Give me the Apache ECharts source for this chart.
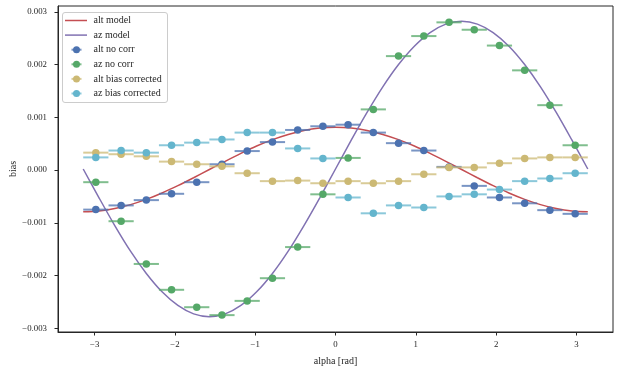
<!DOCTYPE html>
<html>
<head>
<meta charset="utf-8">
<script src="https://cdn.jsdelivr.net/npm/echarts@6/dist/echarts.min.js"></script>
<style>html,body{margin:0;padding:0;background:#fff}#c{width:622px;height:370px}</style>
</head>
<body>
<div id="c"></div>
<script>
// ---- data ----
const alphaBins = [-2.985, -2.670, -2.356, -2.042, -1.728, -1.414, -1.100, -0.785, -0.471, -0.157,
                   0.157, 0.471, 0.785, 1.100, 1.414, 1.728, 2.042, 2.356, 2.670, 2.985];
const alphaHalfWidth = [0.157,0.157,0.157,0.157,0.157,0.157,0.157,0.157,0.157,0.157,
                        0.157,0.157,0.157,0.157,0.157,0.157,0.157,0.157,0.157,0.157];
const altNoCorr = [-0.00075, -0.00067, -0.00057, -0.00045, -0.00023, 0.00011, 0.00036, 0.00053, 0.00076, 0.00083,
                   0.00086, 0.00071, 0.00051, 0.00037, 0.00006, -0.00030, -0.00052, -0.00063, -0.00076, -0.00083];
const azNoCorr = [-0.00023, -0.00097, -0.00178, -0.00227, -0.00260, -0.00275, -0.00248, -0.00205, -0.00146, -0.00046,
                  0.00023, 0.00115, 0.00216, 0.00254, 0.00280, 0.00266, 0.00236, 0.00189, 0.00123, 0.00047];
const altBiasCorr = [0.00033, 0.00030, 0.00026, 0.00016, 0.00011, 0.00007, -0.00006, -0.00021, -0.00020, -0.00025,
                     -0.00021, -0.00025, -0.00021, -0.00008, 0.00005, 0.00005, 0.00013, 0.00022, 0.00024, 0.00024];
const azBiasCorr = [0.00024, 0.00037, 0.00033, 0.00047, 0.00052, 0.00058, 0.00071, 0.00071, 0.00041, 0.00022,
                    -0.00052, -0.00082, -0.00067, -0.00071, -0.00050, -0.00046, -0.00037, -0.00021, -0.00016, -0.00006];
const modelAlpha = [-3.142,-2.945,-2.749,-2.553,-2.356,-2.160,-1.963,-1.767,-1.571,-1.374,-1.178,-0.982,-0.785,-0.589,-0.393,-0.196,
                    0.000,0.196,0.393,0.589,0.785,0.982,1.178,1.374,1.571,1.767,1.963,2.160,2.356,2.553,2.749,2.945,3.142];
const altModel = [-0.00079,-0.000775,-0.00073,-0.000655,-0.000556,-0.000435,-0.000296,-0.000146,0.00001,0.000166,0.000316,0.000455,0.000576,0.000675,0.00075,0.000795,
                  0.00081,0.000795,0.00075,0.000675,0.000576,0.000455,0.000316,0.000166,0.00001,-0.000146,-0.000296,-0.000435,-0.000556,-0.000655,-0.00073,-0.000775,-0.00079];
const azModel = [0.00002,-0.000526,-0.001052,-0.001537,-0.00196,-0.002308,-0.002567,-0.002727,-0.00278,-0.002727,-0.002567,-0.002308,-0.00196,-0.001537,-0.001052,-0.000526,
                 0.00002,0.000566,0.001092,0.001577,0.002,0.002348,0.002607,0.002767,0.00282,0.002767,0.002607,0.002348,0.002,0.001577,0.001092,0.000566,0.00002];
const xTicks = [-3, -2, -1, 0, 1, 2, 3];
const yTicks = [-0.003, -0.002, -0.001, 0, 0.001, 0.002, 0.003];
const legendNames = ['alt model', 'az model', 'alt no corr', 'az no corr', 'alt bias corrected', 'az bias corrected'];

// ---- styling ----
const FONT = 'Liberation Serif';
const TXT = '#262626';
const C = { red: '#C44E52', purple: '#8172B2', blue: '#4C72B0', green: '#55A868', yellow: '#CCB974', cyan: '#64B5CD' };

function pairs(xs, ys) { return xs.map((x, i) => [x, ys[i]]); }
function errData(ys) { return alphaBins.map((x, i) => [x, ys[i], alphaHalfWidth[i]]); }

function errSeries(name, ys, color, z) {
  return [{
    type: 'custom', name: name, z: z, silent: true,
    data: errData(ys),
    renderItem: function (params, api) {
      const x = api.value(0), y = api.value(1), e = api.value(2);
      const p1 = api.coord([x - e, y]), p2 = api.coord([x + e, y]);
      return { type: 'line', shape: { x1: p1[0], y1: p1[1], x2: p2[0], y2: p2[1] },
               style: { stroke: color, lineWidth: 2, opacity: 0.75 } };
    }
  }, {
    type: 'scatter', name: name, z: z + 1, symbol: 'circle', symbolSize: 7.5,
    data: pairs(alphaBins, ys), itemStyle: { color: color, opacity: 1 }
  }];
}

const series = [
  { type: 'line', name: 'alt model', data: pairs(modelAlpha, altModel), showSymbol: false, smooth: 0.3,
    lineStyle: { color: C.red, width: 1.5 }, z: 2 },
  { type: 'line', name: 'az model', data: pairs(modelAlpha, azModel), showSymbol: false, smooth: 0.3,
    lineStyle: { color: C.purple, width: 1.5 }, z: 2 }
].concat(errSeries('alt no corr', altNoCorr, C.blue, 3))
 .concat(errSeries('az no corr', azNoCorr, C.green, 5))
 .concat(errSeries('alt bias corrected', altBiasCorr, C.yellow, 7))
 .concat(errSeries('az bias corrected', azBiasCorr, C.cyan, 9));

// legend drawn as graphic
const legendColors = [C.red, C.purple, C.blue, C.green, C.yellow, C.cyan];
const lg = [{ type: 'rect', shape: { x: 62.5, y: 12.5, width: 105, height: 90, r: 2.5 },
              style: { fill: 'rgba(255,255,255,0.8)', stroke: '#cccccc', lineWidth: 1 }, z: 100 }];
legendNames.forEach((n, i) => {
  const cy = 20.5 + i * 14.6;
  if (i < 2) {
    lg.push({ type: 'line', shape: { x1: 65, y1: cy, x2: 87, y2: cy }, style: { stroke: legendColors[i], lineWidth: 1.5 }, z: 101 });
  } else {
    lg.push({ type: 'line', shape: { x1: 71.5, y1: cy, x2: 81.5, y2: cy }, style: { stroke: legendColors[i], lineWidth: 2, opacity: 0.75 }, z: 101 });
    lg.push({ type: 'circle', shape: { cx: 76.5, cy: cy, r: 3.5 }, style: { fill: legendColors[i] }, z: 102 });
  }
  lg.push({ type: 'text', x: 93.5, y: cy, style: { text: n, fill: TXT, font: '10px "' + FONT + '"', textVerticalAlign: 'middle', verticalAlign: 'middle' }, z: 103 });
});

const fmtNum = (v, d) => { const s = Math.abs(v).toFixed(d); return (v < -1e-12 ? '\u2212' : '') + s; };

const option = {
  animation: false,
  backgroundColor: '#fff',
  grid: { left: 58, right: 9, top: 6, bottom: 38, show: true, borderColor: TXT, borderWidth: 1, backgroundColor: 'transparent',
          containLabel: false, outerBoundsMode: 'none' },
  xAxis: {
    type: 'value', min: -3.456, max: 3.456,
    name: 'alpha [rad]', nameLocation: 'middle', nameGap: 24, nameMoveOverlap: false,
    nameTextStyle: { fontFamily: FONT, fontSize: 10, color: TXT },
    axisLine: { show: true, onZero: false, lineStyle: { color: TXT, width: 1 } },
    axisTick: { show: true, length: 3.5, customValues: xTicks, lineStyle: { color: TXT, width: 1 } },
    axisLabel: { customValues: xTicks, fontFamily: FONT, fontSize: 8.8, color: TXT, margin: 8.5, formatter: v => fmtNum(v, 0) },
    splitLine: { show: false }
  },
  yAxis: {
    type: 'value', min: -0.00307, max: 0.00311,
    name: 'bias', nameLocation: 'middle', nameGap: 40, nameRotate: 90, nameMoveOverlap: false,
    nameTextStyle: { fontFamily: FONT, fontSize: 10, color: TXT },
    axisLine: { show: true, onZero: false, lineStyle: { color: TXT, width: 1 } },
    axisTick: { show: true, length: 3.5, customValues: yTicks, lineStyle: { color: TXT, width: 1 } },
    axisLabel: { customValues: yTicks, fontFamily: FONT, fontSize: 8.8, color: TXT, margin: 11, formatter: v => fmtNum(v, 3) },
    splitLine: { show: false }
  },
  graphic: lg,
  series: series
};

const chart = echarts.init(document.getElementById('c'), null, { renderer: 'canvas' });
chart.setOption(option);
</script>
</body>
</html>
